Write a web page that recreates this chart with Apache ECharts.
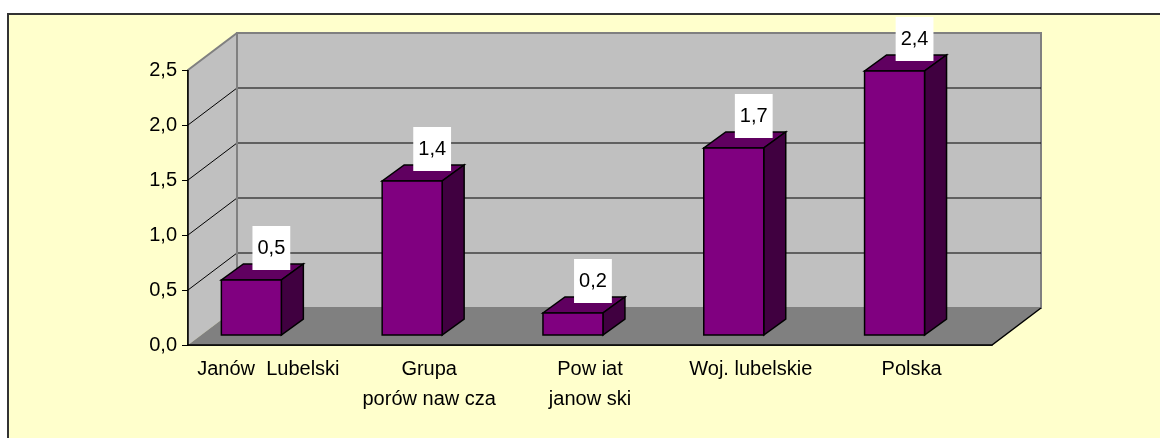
<!DOCTYPE html>
<html>
<head>
<meta charset="utf-8">
<script src="https://cdn.jsdelivr.net/npm/echarts@6/dist/echarts.min.js"></script>
<style>
  html, body { margin: 0; padding: 0; background: #fff; }
  #main { width: 1160px; height: 438px; }
</style>
</head>
<body>
<div id="main"></div>
<script>
  var myChart = echarts.init(document.getElementById('main'));

  // dane
  var categories = ['Janów  Lubelski', 'Grupa\nporów naw cza', 'Pow iat\njanow ski', 'Woj. lubelskie', 'Polska'];
  var values = [0.5, 1.4, 0.2, 1.7, 2.4];
  var yTicks = [0, 0.5, 1.0, 1.5, 2.0, 2.5];

  var FONT = '"Liberation Sans", Arial, sans-serif';
  var DX = 49, DY = 37;          // glebokosc sciany
  var BDX = 22, BDY = 16;        // glebokosc slupka

  function fmt(v) {
    return v.toFixed(1).replace('.', ',');
  }

  // sciany, podloga i linie siatki
  function renderWalls(params, api) {
    var cs = params.coordSys;
    var x0 = cs.x, x1 = cs.x + cs.width;
    var yb = api.coord([0, 0])[1];
    var yt = api.coord([0, yTicks[yTicks.length - 1]])[1];
    var children = [];

    children.push({
      type: 'polygon',
      shape: { points: [[x0, yb], [x0, yt], [x0 + DX, yt - DY], [x0 + DX, yb - DY]] },
      style: { fill: '#c0c0c0' }
    });
    children.push({
      type: 'rect',
      shape: { x: x0 + DX, y: yt - DY, width: x1 - x0, height: yb - yt },
      style: { fill: '#c0c0c0', stroke: '#808080', lineWidth: 2 }
    });
    children.push({
      type: 'polygon',
      shape: { points: [[x0, yb], [x1, yb], [x1 + DX, yb - DY], [x0 + DX, yb - DY]] },
      style: { fill: '#808080' }
    });

    yTicks.forEach(function (v, i) {
      if (v === 0) return;
      var y = api.coord([0, v])[1];
      var last = i === yTicks.length - 1;
      var col = last ? '#808080' : '#000';
      children.push({
        type: 'polyline',
        shape: { points: [[x0, y], [x0 + DX, y - DY], [x1 + DX, y - DY]] },
        style: { stroke: col, lineWidth: last ? 2 : 1, fill: null }
      });
    });
    // lewa krawedz tylnej sciany
    children.push({
      type: 'line',
      shape: { x1: x0 + DX, y1: yt - DY, x2: x0 + DX, y2: yb - DY },
      style: { stroke: '#808080', lineWidth: 2 }
    });
    // przednia i prawa krawedz podlogi
    children.push({
      type: 'polyline',
      shape: { points: [[x0, yb], [x1, yb], [x1 + DX, yb - DY]] },
      style: { stroke: '#000', lineWidth: 1.5, fill: null }
    });
    children.push({
      type: 'line',
      shape: { x1: x0, y1: yt, x2: x0, y2: yb },
      style: { stroke: '#000', lineWidth: 1.5 }
    });
    return { type: 'group', children: children };
  }

  // slupki 3D
  function renderBar(params, api) {
    var idx = api.value(0);
    var val = api.value(1);
    var base = api.coord([idx, 0]);
    var top = api.coord([idx, val]);
    var band = api.size([1, 0])[0];
    var w = band * 0.373;
    var cx = base[0] - band * 0.106;
    var xl = cx - w / 2, xr = cx + w / 2;
    var yb = base[1] - 10, yt = top[1] - 10;
    var edge = { stroke: '#000', lineWidth: 1.5 };

    return {
      type: 'group',
      children: [
        {
          type: 'polygon',
          shape: { points: [[xl, yt], [xr, yt], [xr + BDX, yt - BDY], [xl + BDX, yt - BDY]] },
          style: Object.assign({ fill: '#600060' }, edge)
        },
        {
          type: 'polygon',
          shape: { points: [[xr, yt], [xr, yb], [xr + BDX, yb - BDY], [xr + BDX, yt - BDY]] },
          style: Object.assign({ fill: '#400040' }, edge)
        },
        {
          type: 'rect',
          shape: { x: xl, y: yt, width: w, height: yb - yt },
          style: Object.assign({ fill: '#800080' }, edge)
        },
        {
          type: 'text',
          style: {
            x: cx + 20,
            y: yt - 10,
            text: fmt(val),
            fill: '#000',
            font: '20px ' + FONT,
            align: 'center',
            verticalAlign: 'bottom',
            backgroundColor: '#fff',
            padding: [12, 5, 12, 5]
          }
        }
      ]
    };
  }

  var option = {
    animation: false,
    graphic: [{
      type: 'rect',
      z: -10,
      shape: { x: 8, y: 14, width: 1300, height: 600 },
      style: { fill: '#ffffcc', stroke: '#333', lineWidth: 2 }
    }],
    grid: { left: 188, right: 168, top: 70, bottom: 93 },
    xAxis: {
      type: 'category',
      data: categories,
      axisLine: { lineStyle: { color: '#000', width: 1.5 } },
      axisTick: { length: 6, lineStyle: { color: '#000' } },
      axisLabel: {
        color: '#000',
        fontSize: 20,
        fontFamily: FONT,
        lineHeight: 30,
        margin: 9,
        interval: 0
      }
    },
    yAxis: {
      type: 'value',
      min: 0,
      max: 2.5,
      interval: 0.5,
      splitLine: { show: false },
      axisLine: { show: true, lineStyle: { color: '#000', width: 1.5 } },
      axisTick: { show: true, length: 6, lineStyle: { color: '#000' } },
      axisLabel: {
        color: '#000',
        fontSize: 20,
        fontFamily: FONT,
        margin: 11,
        formatter: fmt
      }
    },
    series: [
      {
        type: 'custom',
        name: 'tlo',
        z: 1,
        silent: true,
        data: [[0, 0]],
        renderItem: renderWalls
      },
      {
        type: 'custom',
        name: 'wartosc',
        z: 3,
        data: values.map(function (v, i) { return [i, v]; }),
        encode: { x: 0, y: 1 },
        renderItem: renderBar
      }
    ]
  };

  myChart.setOption(option);
</script>
</body>
</html>
